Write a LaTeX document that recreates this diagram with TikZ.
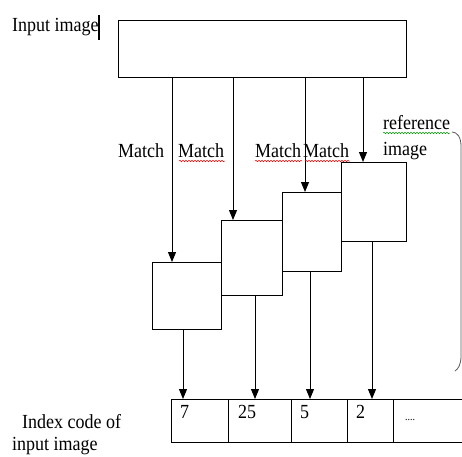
\documentclass[tikz,border=0pt]{standalone}
\usepackage{fontspec}
\setmainfont[FakeStretch=0.9]{Liberation Serif}
\usetikzlibrary{arrows.meta,decorations.pathmorphing}
\begin{document}
\begin{tikzpicture}[x=1pt,y=-1pt,
  box/.style={draw=black,line width=1pt,inner sep=0pt,outer sep=0pt},
  arr/.style={line width=1pt,-{Triangle[width=8pt,length=10pt]}},
  lbl/.style={inner sep=0pt,anchor=base west,font=\fontsize{20}{22}\selectfont},
  wavy/.style={line width=0.5pt,decorate,decoration={snake,amplitude=0.8pt,segment length=3pt}}]
\useasboundingbox (0,0) rectangle (462,456);
% top input box
\node[box,minimum width=288pt,minimum height=57pt] (inp) at (262,48.5) {};
% reference image boxes
\node[box,minimum width=69pt,minimum height=67pt] (r1) at (186.5,295.5) {};
\node[box,minimum width=61pt,minimum height=75pt] (r2) at (251.5,257.5) {};
\node[box,minimum width=59pt,minimum height=79pt] (r3) at (311.5,231.5) {};
\node[box,minimum width=65pt,minimum height=79pt] (r4) at (373.5,201.5) {};
% index code cells
\node[box,minimum width=57pt,minimum height=43pt] (c1) at (199.5,420.5) {};
\node[box,minimum width=63pt,minimum height=43pt] (c2) at (259.5,420.5) {};
\node[box,minimum width=56pt,minimum height=43pt] (c3) at (319,420.5) {};
\node[box,minimum width=46pt,minimum height=43pt] (c4) at (370,420.5) {};
\node[box,minimum width=90pt,minimum height=43pt] (c5) at (438,420.5) {};
% arrows from input to reference boxes
\draw[arr] (inp.south -| 172,0) -- (r1.north -| 172,0);
\draw[arr] (inp.south -| 233,0) -- (r2.north -| 233,0);
\draw[arr] (inp.south -| 305,0) -- (r3.north -| 305,0);
\draw[arr] (inp.south -| 363,0) -- (r4.north -| 363,0);
% arrows from reference boxes to index cells
\draw[arr] (r1.south -| 183,0) -- (c1.north -| 183,0);
\draw[arr] (r2.south -| 255,0) -- (c2.north -| 255,0);
\draw[arr] (r3.south -| 310,0) -- (c3.north -| 310,0);
\draw[arr] (r4.south -| 372,0) -- (c4.north -| 372,0);
% labels
\node[lbl] (tin) at (12,31) {Input image};
\draw[line width=2pt] (99,15) -- (99,40);
\node[lbl] (m1) at (118,157) {Match};
\node[lbl] (m2) at (178,157) {Match};
\node[lbl] (m3) at (255,157) {Match};
\node[lbl] (m4) at (303,157) {Match};
\node[lbl] (ref1) at (383,129) {reference};
\node[lbl] (ref2) at (383,155) {image};
\node[lbl] (ix1) at (22,428) {Index code of};
\node[lbl] (ix2) at (12,450) {input image};
% numbers
\node[lbl] (n1) at (180,418) {7};
\node[lbl] (n2) at (238,418) {25};
\node[lbl] (n3) at (300,418) {5};
\node[lbl] (n4) at (356,418) {2};
\node[lbl] (n5) at (405,420) {\fontsize{11}{12}\selectfont....};
% spell-check underlines
\draw[wavy,red] (m2.base west) ++(1,4) -- ++(46,0);
\draw[wavy,red] (m3.base west) ++(0,4) -- ++(47,0);
\draw[wavy,red] (m4.base west) ++(2,4) -- ++(45,0);
\draw[wavy,green!60!black] (ref1.base west) ++(0,4) -- ++(67,0);
% brace
\draw[gray!70!black,line width=0.8pt] (452,132) .. controls (457,132) and (461,137) .. (461,146) -- (461,356) .. controls (461,365) and (458,369) .. (455,371);
\end{tikzpicture}
\end{document}
